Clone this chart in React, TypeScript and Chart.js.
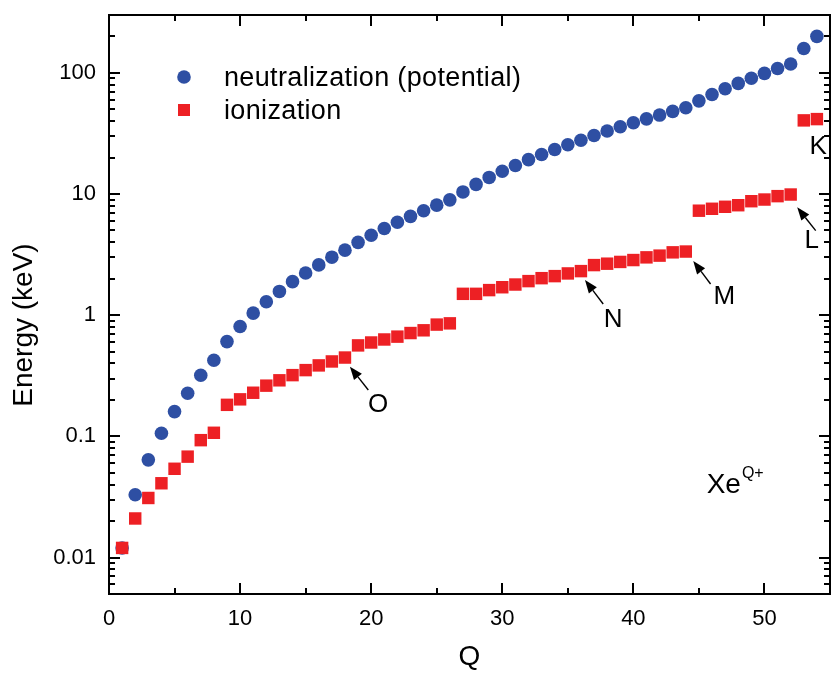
import { useEffect, useRef } from 'react';
import { Chart, registerables } from 'chart.js';

Chart.register(...registerables);

const FONT = '"Liberation Sans", Arial, Helvetica, sans-serif';
const BLUE = '#2E4FA3';
const RED = '#ED2024';

// Charge state Q of Xe
const charges = [
  1, 2, 3, 4, 5, 6, 7, 8, 9, 10, 11, 12, 13, 14, 15, 16, 17, 18, 19, 20, 21, 22, 23, 24, 25, 26, 27,
  28, 29, 30, 31, 32, 33, 34, 35, 36, 37, 38, 39, 40, 41, 42, 43, 44, 45, 46, 47, 48, 49, 50, 51, 52, 53, 54,
];

// neutralization (potential) energy, keV
const neutralization = [
  0.012, 0.033, 0.064, 0.106, 0.16, 0.227, 0.319, 0.425, 0.605, 0.807, 1.04, 1.29, 1.57, 1.89, 2.23,
  2.6, 3.01, 3.44, 3.99, 4.57, 5.19, 5.84, 6.54, 7.27, 8.09, 8.95, 10.4, 12.0, 13.7, 15.4, 17.2, 19.2,
  21.2, 23.3, 25.5, 27.8, 30.4, 33.1, 35.9, 38.7, 41.7, 44.8, 48.1, 51.5, 58.7, 66.2, 73.9, 81.8, 90.3,
  99.0, 108.5, 118.3, 158.6, 199.9,
];

// ionization energy, keV
const ionization = [
  0.012, 0.021, 0.031, 0.041, 0.054, 0.068, 0.093, 0.107, 0.182, 0.202, 0.229, 0.262, 0.29, 0.32,
  0.352, 0.385, 0.415, 0.447, 0.563, 0.595, 0.63, 0.665, 0.712, 0.75, 0.836, 0.856, 1.5, 1.5, 1.61,
  1.7, 1.79, 1.91, 2.02, 2.1, 2.21, 2.31, 2.59, 2.66, 2.75, 2.85, 3.0, 3.1, 3.3, 3.35, 7.28, 7.55,
  7.84, 8.08, 8.72, 9.0, 9.6, 9.9, 40.5, 41.5,
];

const xTickValues = [0, 10, 20, 30, 40, 50];
const xTickLabels = ['0', '10', '20', '30', '40', '50'];
const yTickValues = [0.01, 0.1, 1, 10, 100];
const yTickLabels = ['0.01', '0.1', '1', '10', '100'];

const seriesNames = ['neutralization (potential)', 'ionization'];

// Shell labels with arrows, anchored in data coordinates [Q, keV]
const shellNames = ['O', 'N', 'M', 'L', 'K'];
const shellLabelAt = [
  [20.53, 0.1805],
  [38.46, 0.907],
  [46.93, 1.42],
  [53.6, 4.13],
  [54.1, 24.6],
];
const shellArrowTip = [
  [18.38, 0.376],
  [36.31, 1.951],
  [44.57, 2.8],
  [52.5, 7.77],
  null,
];
const shellArrowTail = [
  [19.78, 0.241],
  [37.7, 1.236],
  [45.89, 1.808],
  [53.91, 4.98],
  null,
];
const ionLabelAt = [45.59, 0.0339];

const decorPlugin = {
  id: 'decor',
  afterDraw(chart: any) {
    const { ctx, chartArea: a, scales } = chart;
    const x = scales.x;
    const y = scales.y;
    ctx.save();
    ctx.strokeStyle = '#000';
    ctx.fillStyle = '#000';
    ctx.lineWidth = 2;
    ctx.lineCap = 'butt';

    const seg = (x1: number, y1: number, x2: number, y2: number) => {
      ctx.beginPath();
      ctx.moveTo(x1, y1);
      ctx.lineTo(x2, y2);
      ctx.stroke();
    };

    // frame
    ctx.strokeRect(a.left, a.top, a.right - a.left, a.bottom - a.top);

    // x ticks (inside, bottom and top)
    for (let v = 5; v < x.max; v += 5) {
      const px = Math.round(x.getPixelForValue(v));
      const len = v % 10 === 0 ? 11 : 6;
      seg(px, a.bottom, px, a.bottom - len);
      seg(px, a.top, px, a.top + len);
    }
    // y ticks (log, inside, left and right)
    for (let d = -3; d <= 2; d++) {
      for (let m = 1; m <= 9; m++) {
        const v = m * Math.pow(10, d);
        if (v <= y.min * 1.0001 || v >= y.max * 0.9999) continue;
        const py = Math.round(y.getPixelForValue(v));
        const len = m === 1 ? 11 : 6;
        seg(a.left, py, a.left + len, py);
        seg(a.right, py, a.right - len, py);
      }
    }

    // y axis title
    ctx.save();
    ctx.font = `28px ${FONT}`;
    ctx.textAlign = 'center';
    ctx.textBaseline = 'middle';
    ctx.translate(24.6, (a.top + a.bottom) / 2 + 20.5);
    ctx.rotate(-Math.PI / 2);
    ctx.fillText('Energy (keV)', 0, 0);
    ctx.restore();

    // legend
    const lx = a.left + 75;
    const ly1 = a.top + 62;
    const ly2 = a.top + 95;
    ctx.fillStyle = BLUE;
    ctx.beginPath();
    ctx.arc(lx, ly1, 6.8, 0, Math.PI * 2);
    ctx.fill();
    ctx.fillStyle = RED;
    ctx.fillRect(lx - 6, ly2 - 6, 12, 12);
    ctx.fillStyle = '#000';
    ctx.font = `27px ${FONT}`;
    ctx.textAlign = 'left';
    ctx.textBaseline = 'alphabetic';
    (ctx as any).letterSpacing = '0.35px';
    ctx.fillText(seriesNames[0], lx + 40, ly1 + 9);
    ctx.fillText(seriesNames[1], lx + 40, ly2 + 9);
    (ctx as any).letterSpacing = '0px';

    // shell arrows and labels
    ctx.lineWidth = 1.4;
    for (let i = 0; i < shellNames.length; i++) {
      const tip = shellArrowTip[i];
      const tail = shellArrowTail[i];
      if (tip && tail) {
        const tx = x.getPixelForValue(tip[0]);
        const ty = y.getPixelForValue(tip[1]);
        const sx = x.getPixelForValue(tail[0]);
        const sy = y.getPixelForValue(tail[1]);
        const ang = Math.atan2(ty - sy, tx - sx);
        const hl = 13;
        const hw = 5;
        const bx = tx - hl * Math.cos(ang);
        const by = ty - hl * Math.sin(ang);
        seg(sx, sy, bx, by);
        ctx.beginPath();
        ctx.moveTo(tx, ty);
        ctx.lineTo(bx + hw * Math.sin(ang), by - hw * Math.cos(ang));
        ctx.lineTo(bx - hw * Math.sin(ang), by + hw * Math.cos(ang));
        ctx.closePath();
        ctx.fill();
      }
      const lp = shellLabelAt[i];
      ctx.font = `26px ${FONT}`;
      ctx.textAlign = 'center';
      ctx.textBaseline = 'middle';
      ctx.fillText(shellNames[i], x.getPixelForValue(lp[0]), y.getPixelForValue(lp[1]));
    }

    // Xe^{Q+}
    const ix = x.getPixelForValue(ionLabelAt[0]);
    const iy = y.getPixelForValue(ionLabelAt[1]);
    ctx.textAlign = 'left';
    ctx.textBaseline = 'alphabetic';
    ctx.font = `28px ${FONT}`;
    ctx.fillText('Xe', ix, iy);
    const w = ctx.measureText('Xe').width;
    ctx.font = `16px ${FONT}`;
    ctx.fillText('Q+', ix + w + 1, iy - 15);

    ctx.restore();
  },
};

const zeroPad = (s: any) => {
  s.paddingTop = 0;
  s.paddingBottom = 0;
  s.paddingLeft = 0;
  s.paddingRight = 0;
};

export default function App() {
  const ref = useRef<HTMLCanvasElement | null>(null);

  useEffect(() => {
    if (!ref.current) return;
    Chart.defaults.font.family = FONT;
    const chart = new Chart(ref.current, {
      type: 'scatter',
      data: {
        datasets: [
          {
            label: seriesNames[1],
            data: charges.map((q, i) => ({ x: q, y: ionization[i] })),
            pointStyle: 'rect',
            pointRadius: 8.8,
            pointHoverRadius: 8.8,
            backgroundColor: RED,
            borderColor: RED,
            borderWidth: 0,
            order: 0,
          },
          {
            label: seriesNames[0],
            data: charges.map((q, i) => ({ x: q, y: neutralization[i] })),
            pointStyle: 'circle',
            pointRadius: 6.8,
            pointHoverRadius: 6.8,
            backgroundColor: BLUE,
            borderColor: BLUE,
            borderWidth: 0,
            order: 1,
          },
        ],
      },
      options: {
        responsive: false,
        animation: false,
        events: [],
        layout: { autoPadding: false, padding: { left: 0, right: 3, top: 15, bottom: 0 } },
        plugins: {
          legend: { display: false },
          tooltip: { enabled: false },
        },
        scales: {
          x: {
            type: 'linear',
            min: 0,
            max: 55,
            afterBuildTicks: (s: any) => {
              s.ticks = xTickValues.map((value) => ({ value }));
            },
            afterFit: (s: any) => {
              s.height = 83;
              zeroPad(s);
            },
            grid: { display: false, drawTicks: false },
            border: { display: false },
            ticks: {
              autoSkip: false,
              maxRotation: 0,
              padding: 12,
              color: '#000',
              font: { family: FONT, size: 22 },
              callback: (_v: any, i: number) => xTickLabels[i],
            },
            title: {
              display: true,
              text: 'Q',
              color: '#000',
              font: { family: FONT, size: 28 },
              padding: { top: 0, bottom: 3 },
            },
          },
          y: {
            type: 'logarithmic',
            min: 0.005,
            max: 300,
            afterBuildTicks: (s: any) => {
              s.ticks = yTickValues.map((value) => ({ value }));
            },
            afterFit: (s: any) => {
              s.width = 109;
              zeroPad(s);
            },
            grid: { display: false, drawTicks: false },
            border: { display: false },
            ticks: {
              autoSkip: false,
              padding: 13,
              color: '#000',
              font: { family: FONT, size: 22 },
              callback: (_v: any, i: number) => yTickLabels[i],
            },
          },
        },
      },
      plugins: [decorPlugin],
    } as any);
    return () => chart.destroy();
  }, []);

  return (
    <div style={{ position: 'absolute', left: 0, top: 0, width: 833, height: 677, background: '#fff' }}>
      <canvas ref={ref} width={833} height={677} style={{ display: 'block' }} />
    </div>
  );
}
